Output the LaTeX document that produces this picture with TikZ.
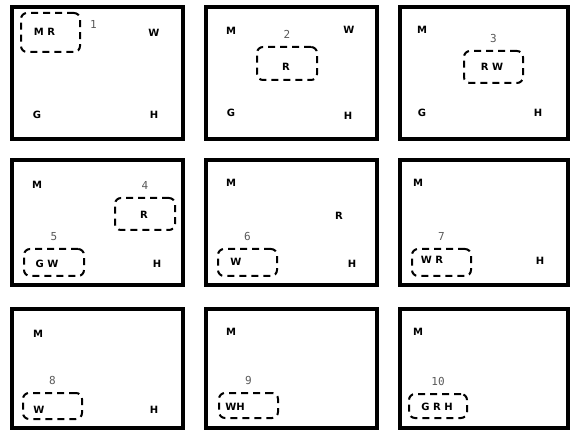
\documentclass[tikz,border=0pt]{standalone}
\usepackage{fontspec}
\setmainfont{DejaVu Sans}
\newfontfamily\numfont{DejaVu Sans Mono}
\usetikzlibrary{positioning}

\begin{document}
\begin{tikzpicture}[
    x=1pt, y=-1pt,
    panel/.style={draw, line width=3.2pt},
    grp/.style={draw, line width=2pt, dash pattern=on 7pt off 5pt, rounded corners=6pt,
                minimum width=59pt, minimum height=32pt, inner sep=0pt},
    letter/.style={font=\fontsize{10}{11}\selectfont\bfseries, inner sep=1pt},
    stepno/.style={font=\numfont\fontsize{11}{12}\selectfont, text=black!65, inner sep=1pt}
]
\useasboundingbox (0,0) rectangle (570,430);

% the nine frames
\foreach \xa/\xb in {12/183, 206/377, 400/568}
    \foreach \ya/\yb in {7/139, 160/285, 309/428}
        \draw[panel] (\xa,\ya) rectangle (\xb,\yb);

% frame 1
\node[grp, minimum height=39pt] (g1) at (50.5,32.5) {};
\node[letter] (mr1) at (44.5,32) {M R};
\node[stepno, right=8pt of g1.north east, yshift=-12pt] (n1) {1};
\node[letter] (w1) at (154,33) {W};
\node[letter] (g01) at (37,115) {G};
\node[letter] (h1) at (154,115) {H};

% frame 2
\node[letter] (m2) at (231,31) {M};
\node[letter] (w2) at (349,30) {W};
\node[grp, minimum width=60pt, minimum height=33pt] (g2) at (287,63.5) {};
\node[stepno, above=6pt of g2] (n2) {2};
\node[letter] (r2) at (286,67) {R};
\node[letter] (g02) at (231,113) {G};
\node[letter] (h2) at (348,116) {H};

% frame 3
\node[letter] (m3) at (422,30) {M};
\node[grp] (g3) at (493.5,67) {};
\node[stepno, above=6pt of g3] (n3) {3};
\node[letter] (rw3) at (492,67) {R W};
\node[letter] (g03) at (422,113) {G};
\node[letter] (h3) at (538,113) {H};

% frame 4
\node[letter] (m4) at (37,185) {M};
\node[grp, minimum width=60pt] (g4) at (145,214) {};
\node[stepno, above=6pt of g4] (n4) {4};
\node[letter] (r4) at (144,215) {R};
\node[grp, minimum width=60pt, minimum height=27pt] (g5) at (54,262.5) {};
\node[stepno, above=6pt of g5] (n5) {5};
\node[letter] (gw5) at (47,264) {G W};
\node[letter] (h4) at (157,264) {H};

% frame 5
\node[letter] (m5) at (231,183) {M};
\node[letter] (r5) at (339,216) {R};
\node[grp, minimum height=27pt] (g6) at (247.5,262.5) {};
\node[stepno, above=6pt of g6] (n6) {6};
\node[letter] (w6) at (236,262) {W};
\node[letter] (h5) at (352,264) {H};

% frame 6
\node[letter] (m6) at (418,183) {M};
\node[grp, minimum height=27pt] (g7) at (441.5,262.5) {};
\node[stepno, above=6pt of g7] (n7) {7};
\node[letter] (wr7) at (432,260) {W R};
\node[letter] (h6) at (540,261) {H};

% frame 7
\node[letter] (m7) at (38,334) {M};
\node[grp, minimum height=26pt] (g8) at (52.5,406) {};
\node[stepno, above=6pt of g8] (n8) {8};
\node[letter] (w8) at (39,410) {W};
\node[letter] (h7) at (154,410) {H};

% frame 8
\node[letter] (m8) at (231,332) {M};
\node[grp, minimum height=25pt] (g9) at (248.5,405.5) {};
\node[stepno, above=6pt of g9] (n9) {9};
\node[letter] (wh9) at (235,407) {WH};

% frame 9
\node[letter] (m9) at (418,332) {M};
\node[grp, minimum width=58pt, minimum height=24pt] (g10) at (438,406) {};
\node[stepno, above=6pt of g10] (n10) {10};
\node[letter] (grh10) at (437,407) {G R H};

\end{tikzpicture}
\end{document}
